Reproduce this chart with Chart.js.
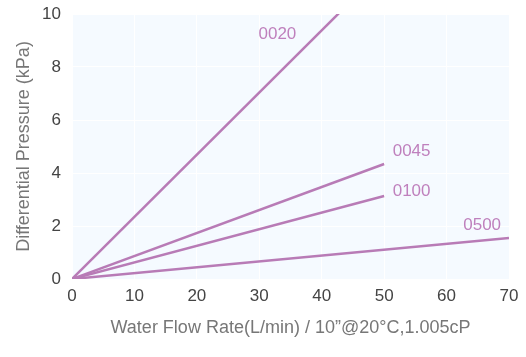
<!DOCTYPE html>
<html><head><meta charset="utf-8">
<script src="https://cdn.jsdelivr.net/npm/chart.js@4"></script>
<style>html,body{margin:0;padding:0;background:#fff;}#wrap{width:526px;height:357px;}</style>
</head><body><div id="wrap"><canvas id="c" width="526" height="357"></canvas></div>
<script>
const seriesNames = ["0020", "0045", "0100", "0500"];
const startFlow = [0, 0, 0, 0];
const startPressure = [0, 0, 0, 0];
const endFlow = [42.8, 50, 50, 70];
const endPressure = [10.04, 4.34, 3.13, 1.55];
const labelFlow = [32.9, 54.4, 54.4, 65.7];
const labelPressure = [9.25, 4.8, 3.3, 2.04];
const xTicks = [0, 10, 20, 30, 40, 50, 60, 70];
const yTicks = [0, 2, 4, 6, 8, 10];

const lineColor = '#b87bb6';
const labelColor = '#bf80bd';
const font = '"Liberation Sans", Arial, Helvetica, sans-serif';

const datasets = seriesNames.map((n, i) => ({
  label: n,
  data: [{x: startFlow[i], y: startPressure[i]}, {x: endFlow[i], y: endPressure[i]}],
  borderColor: lineColor, borderWidth: 2.5, pointRadius: 0, fill: false, showLine: true
}));

const bgPlugin = {
  id: 'bg',
  beforeDraw(chart) {
    const {ctx, chartArea: a} = chart;
    ctx.save(); ctx.fillStyle = '#f5faff';
    ctx.fillRect(a.left, a.top, a.right - a.left, a.bottom - a.top);
    ctx.restore();
  }
};
const labelPlugin = {
  id: 'lbl',
  afterDatasetsDraw(chart) {
    const {ctx, scales} = chart;
    ctx.save();
    ctx.fillStyle = labelColor; ctx.font = '17px ' + font;
    ctx.textAlign = 'center'; ctx.textBaseline = 'middle';
    seriesNames.forEach((n, i) => {
      ctx.fillText(n, scales.x.getPixelForValue(labelFlow[i]), scales.y.getPixelForValue(labelPressure[i]));
    });
    ctx.restore();
  }
};

new Chart(document.getElementById('c'), {
  type: 'scatter',
  data: {datasets},
  plugins: [bgPlugin, labelPlugin],
  options: {
    responsive: false, animation: false,
    layout: {padding: {top: 14, right: 17, left: 9, bottom: 14}},
    plugins: {legend: {display: false}, tooltip: {enabled: false}},
    scales: {
      x: {
        type: 'linear', min: 0, max: 70,
        afterBuildTicks(s) { s.ticks = xTicks.map(v => ({value: v})); },
        afterFit(s) { s.height = 64; s.paddingLeft = 0; s.paddingRight = 0; },
        grid: {color: '#ffffff', lineWidth: 1, drawTicks: false},
        border: {display: false},
        ticks: {color: '#444', font: {size: 17, family: font}, padding: 7},
        title: {display: true, text: 'Water Flow Rate(L/min) / 10”@20°C,1.005cP', color: '#777', font: {size: 18, family: font}, padding: {top: 12}}
      },
      y: {
        type: 'linear', min: 0, max: 10,
        afterBuildTicks(s) { s.ticks = yTicks.map(v => ({value: v})); },
        afterFit(s) { s.width = 63; s.paddingTop = 0; s.paddingBottom = 0; },
        grid: {color: '#ffffff', lineWidth: 1, drawTicks: false},
        border: {display: false},
        ticks: {color: '#444', font: {size: 17, family: font}, padding: 11},
        title: {display: true, text: 'Differential Pressure (kPa)', color: '#777', font: {size: 18, family: font}, padding: {bottom: 6}}
      }
    }
  }
});
</script></body></html>
